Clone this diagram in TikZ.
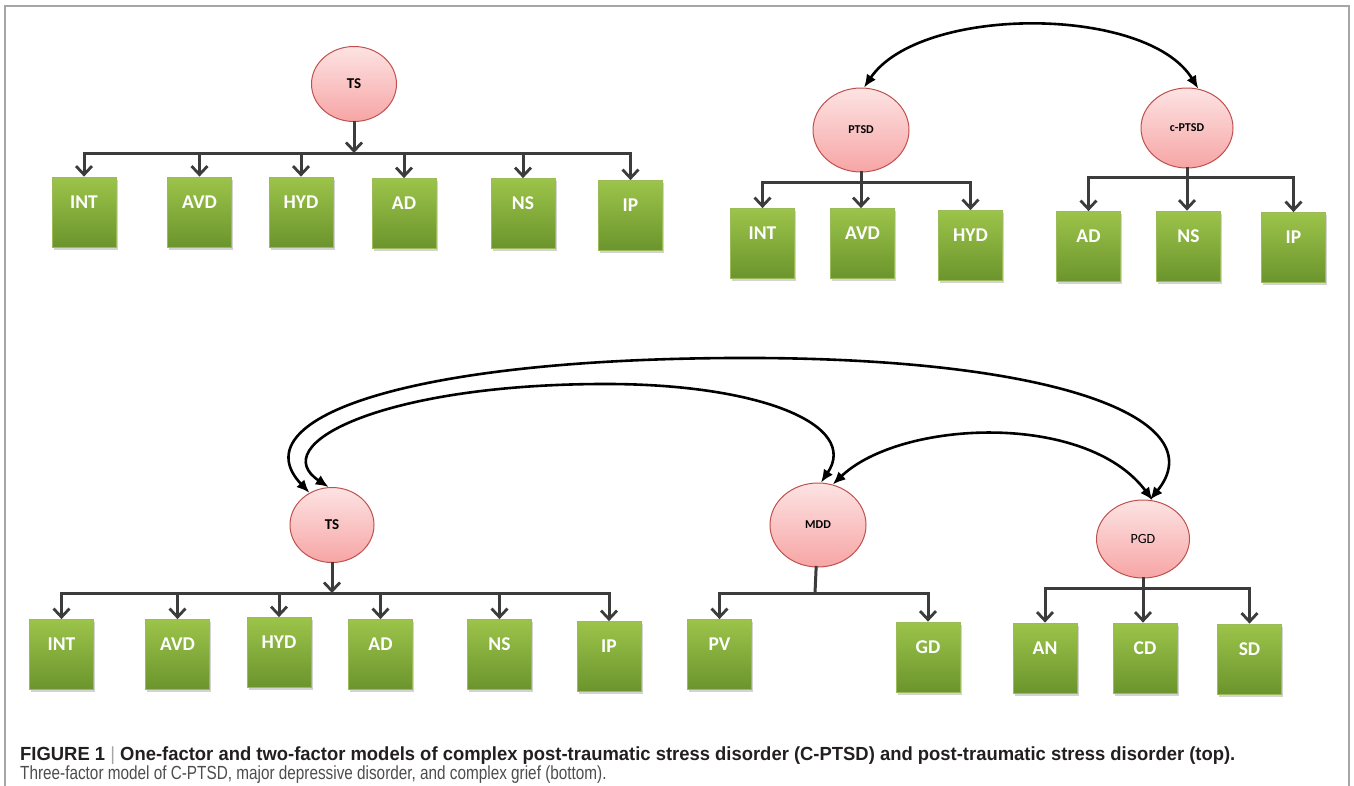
\documentclass[tikz,border=0pt]{standalone}
\usepackage{fontspec}
\setmainfont{Carlito}
\newfontfamily\capfont{Liberation Sans}
\usetikzlibrary{shapes.geometric,arrows.meta,shadows}
\definecolor{framegray}{HTML}{A6A6A6}
\definecolor{treegray}{HTML}{3C3C3C}
\definecolor{factorline}{HTML}{C0504D}
\definecolor{factortop}{HTML}{FDE3E3}
\definecolor{factorbot}{HTML}{F7A5A5}
\definecolor{itemline}{HTML}{9BBB59}
\definecolor{itemtop}{HTML}{9CC44A}
\definecolor{itembot}{HTML}{6B942D}
\definecolor{captext}{HTML}{231F20}
\definecolor{capsub}{HTML}{4D4D4D}
\tikzset{%
    factor/.style={ellipse,draw=factorline,line width=1pt,top color=factortop,bottom color=factorbot,inner sep=0pt,font=\fontsize{12}{12}\selectfont\bfseries},
    item/.style={rectangle,draw=itemline,line width=0.8pt,top color=itemtop,bottom color=itembot,minimum width=64pt,minimum height=70pt,inner sep=0pt,text=white,font=\fontsize{19.5}{19.5}\selectfont\bfseries,text height=13pt,text depth=21pt,drop shadow={shadow xshift=1.5pt,shadow yshift=-2.5pt,opacity=0.35}},
    link/.style={draw=treegray,line width=3pt,line cap=rect},
    pointer/.style={link,-{Straight Barb[length=8.5pt,width=16pt,line width=2.8pt]}},
    cov/.style={black,line width=2.6pt,{Latex[length=13pt,width=11pt]}-{Latex[length=13pt,width=11pt]}},
}
\begin{document}
\begin{tikzpicture}[x=1pt,y=-1pt]
      \useasboundingbox (0,0) rectangle (1354,785);
      \draw[framegray,line width=1.5pt] (5,790) -- (5,6) -- (1349,6) -- (1349,790);

      % one-factor model
      \node[factor,minimum width=85pt,minimum height=75pt,font=\fontsize{15}{15}\selectfont\bfseries] (ts1) at (354,84) {TS};
      \node[item] (int1) at (84,212) {INT};
      \node[item] (avd1) at (199.5,212) {AVD};
      \node[item] (hyd1) at (301,212) {HYD};
      \node[item] (ad1) at (404,213.5) {AD};
      \node[item] (ns1) at (523,213.5) {NS};
      \node[item] (ip1) at (630.5,215.5) {IP};
      \coordinate (bus1) at (354,153);
      \draw[pointer] (ts1) -- (bus1);
      \draw[pointer] (ip1.north |- bus1) -- (int1.north |- bus1) -- (int1.north);
      \draw[pointer] (avd1.north |- bus1) -- (avd1.north);
      \draw[pointer] (hyd1.north |- bus1) -- (hyd1.north);
      \draw[pointer] (ad1.north |- bus1) -- (ad1.north);
      \draw[pointer] (ns1.north |- bus1) -- (ns1.north);
      \draw[pointer] (ip1.north |- bus1) -- (ip1.north);

      % two-factor model
      \node[factor,minimum width=96pt,minimum height=84pt] (ptsd) at (861,130) {PTSD};
      \node[factor,minimum width=92pt,minimum height=80pt] (cptsd) at (1187,128) {c-PTSD};
      \node[item] (int2) at (762.5,243.5) {INT};
      \node[item] (avd2) at (862.5,243.5) {AVD};
      \node[item] (hyd2) at (970.5,245.5) {HYD};
      \node[item] (ad2) at (1088.5,246.5) {AD};
      \node[item] (ns2) at (1188.5,246) {NS};
      \node[item] (ip2) at (1293.5,247.5) {IP};
      \coordinate (bus2) at (862,182);
      \coordinate (bus3) at (1187,177);
      \draw[pointer] (ptsd) -- (ptsd |- avd2.north);
      \draw[pointer] (hyd2.north |- bus2) -- (int2.north |- bus2) -- (int2.north);
      \draw[pointer] (hyd2.north |- bus2) -- (hyd2.north);
      \draw[pointer] (cptsd) -- (cptsd |- ns2.north);
      \draw[pointer] (ip2.north |- bus3) -- (ad2.north |- bus3) -- (ad2.north);
      \draw[pointer] (ip2.north |- bus3) -- (ip2.north);
      \draw[cov] (ptsd.86) .. controls (920,5) and (1147,5) .. (cptsd.74);

      % three-factor model
      \node[factor,minimum width=84pt,minimum height=75pt,font=\fontsize{15}{15}\selectfont\bfseries] (ts3) at (332,525) {TS};
      \node[factor,minimum width=96pt,minimum height=84pt] (mdd) at (818,525) {MDD};
      \node[factor,minimum width=93pt,minimum height=78pt,font=\fontsize{14}{14}\selectfont] (pgd) at (1143,539) {PGD};
      \node[item] (int3) at (61.5,654.5) {INT};
      \node[item] (avd3) at (177.5,654.5) {AVD};
      \node[item] (hyd3) at (279,652.5) {HYD};
      \node[item] (ad3) at (380.5,654.5) {AD};
      \node[item] (ns3) at (499.5,654.5) {NS};
      \node[item] (ip3) at (609,656.5) {IP};
      \node[item] (pv) at (719.5,654.5) {PV};
      \node[item] (gd) at (928,657) {GD};
      \node[item] (an) at (1045,658) {AN};
      \node[item] (cd) at (1145,658) {CD};
      \node[item] (sd) at (1249.5,659) {SD};
      \coordinate (bus4) at (332,593);
      \coordinate (bus5) at (815,593);
      \coordinate (bus6) at (1143,588);
      \draw[pointer] (ts3) -- (bus4);
      \draw[pointer] (ip3.north |- bus4) -- (int3.north |- bus4) -- (int3.north);
      \draw[pointer] (avd3.north |- bus4) -- (avd3.north);
      \draw[pointer] (hyd3.north |- bus4) -- (hyd3.north);
      \draw[pointer] (ad3.north |- bus4) -- (ad3.north);
      \draw[pointer] (ns3.north |- bus4) -- (ns3.north);
      \draw[pointer] (ip3.north |- bus4) -- (ip3.north);
      \draw[link] (mdd) -- (bus5);
      \draw[pointer] (gd.north |- bus5) -- (pv.north |- bus5) -- (pv.north);
      \draw[pointer] (pv.north |- bus5) -- (gd.north |- bus5) -- (gd.north);
      \draw[pointer] (pgd) -- (pgd |- cd.north);
      \draw[pointer] (sd.north |- bus6) -- (an.north |- bus6) -- (an.north);
      \draw[pointer] (sd.north |- bus6) -- (sd.north);
      \draw[cov] (ts3.125) .. controls (240,420) and (400,360) .. (730,358) .. controls (1060,356) and (1215,420) .. (pgd.80);
      \draw[cov] (ts3.95) .. controls (265,445) and (380,385) .. (600,384) .. controls (760,383) and (860,425) .. (mdd.86);
      \draw[cov] (mdd.70) .. controls (900,420) and (1086,411) .. (pgd.76);

      % caption
      \node[anchor=base west,inner sep=0pt,text=captext,font=\capfont\fontsize{19}{19}\selectfont\bfseries] (cap1) at (20,760) {\scalebox{0.97}[1]{FIGURE 1 {\mdseries\color{framegray}|} One-factor and two-factor models of complex post-traumatic stress disorder (C-PTSD) and post-traumatic stress disorder (top).}};
      \node[anchor=base west,inner sep=0pt,text=capsub,font=\capfont\fontsize{19}{19}\selectfont] (cap2) at (20,779) {\scalebox{0.806}[1]{Three-factor model of C-PTSD, major depressive disorder, and complex grief (bottom).}};
\end{tikzpicture}
\end{document}
